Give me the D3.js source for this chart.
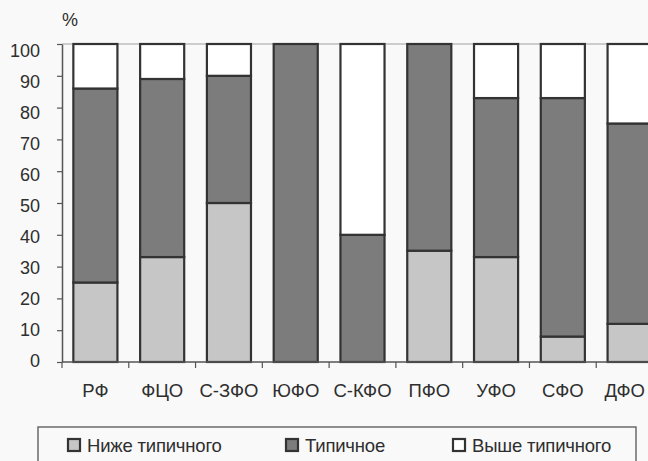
<!DOCTYPE html>
<html>
<head>
<meta charset="utf-8">
<script src="https://cdn.jsdelivr.net/npm/d3@7"></script>
<style>
  body { margin: 0; background: #fff; }
  svg { display: block; font-family: "Liberation Sans", Arial, sans-serif; }
</style>
</head>
<body>
<div id="chart"></div>
<script>
// regions (federal districts)
const categories = ["РФ", "ФЦО", "С-ЗФО", "ЮФО", "С-КФО", "ПФО", "УФО", "СФО", "ДФО"];
// shares, %
const belowTypical = [25, 33, 50, 0, 0, 35, 33, 8, 12];
const typical      = [61, 56, 40, 100, 40, 65, 50, 75, 63];
const aboveTypical = [14, 11, 10, 0, 60, 0, 17, 17, 25];
const seriesNames = ["Ниже типичного", "Типичное", "Выше типичного"];
const yTicks = [0, 10, 20, 30, 40, 50, 60, 70, 80, 90, 100];

const W = 648, H = 461,
    margin = {top: 44, left: 62, bottom: 99},
    plotW = 601,
    plotH = H - margin.top - margin.bottom;

const colors = ["#c6c6c6", "#7c7c7c", "#ffffff"];
const textColor = "#2e2e2e";
const keys = ["low", "typ", "high"];

let rows = categories.map(function(c, i){
    return {cat: c, low: belowTypical[i], typ: typical[i], high: aboveTypical[i]};
});
let stacked = d3.stack().keys(keys)(rows);

let x = d3.scaleBand().domain(categories)
    .range([margin.left, margin.left + plotW])
    .paddingInner(0.34).paddingOuter(0.17);
let y = d3.scaleLinear().domain([0, 100]).range([margin.top + plotH, margin.top]);
// the scanned labels sit a little lower than their ticks towards the top
let yLabel = d3.scaleLinear().domain([0, 100]).range([y(0) - 1, y(100) + 7]);

let svg = d3.select("#chart").append("svg").attr("width", W).attr("height", H);
svg.append("rect").attr("width", W).attr("height", H).attr("fill", "#f9f9f9");

// top border of plot area
svg.append("line")
    .attr("x1", margin.left).attr("x2", W)
    .attr("y1", y(100)).attr("y2", y(100))
    .attr("stroke", "#a0a0a0").attr("stroke-width", 1.2);

// bars
svg.append("g").selectAll("g")
    .data(stacked).join("g")
    .attr("fill", function(d, i){ return colors[i]; })
    .selectAll("rect")
    .data(function(d){ return d.filter(function(s){ return s[1] - s[0] > 0; }); })
    .join("rect")
    .attr("x", function(d){ return x(d.data.cat); })
    .attr("width", x.bandwidth())
    .attr("y", function(d){ return y(d[1]); })
    .attr("height", function(d){ return y(d[0]) - y(d[1]); })
    .attr("stroke", "#333").attr("stroke-width", 2.2);

// y axis
let yAxis = svg.append("g")
    .attr("transform", "translate(" + margin.left + ",0)")
    .call(d3.axisLeft(y).tickValues(yTicks).tickSize(5).tickFormat("").tickSizeOuter(0));
yAxis.select(".domain").attr("stroke", "#555").attr("stroke-width", 1.5);
yAxis.selectAll(".tick line").attr("stroke", "#555").attr("stroke-width", 1.2);

svg.append("g").selectAll("text")
    .data(yTicks).join("text")
    .attr("x", 40)
    .attr("y", function(d){ return yLabel(d); })
    .attr("dy", "0.36em")
    .attr("text-anchor", "end")
    .attr("font-size", 18).attr("fill", textColor)
    .text(function(d){ return d; });

svg.append("text").attr("x", margin.left).attr("y", 26)
    .attr("font-size", 18).attr("fill", textColor).text("%");

// x axis: line, ticks between categories, labels
let base = y(0);
svg.append("line")
    .attr("x1", margin.left).attr("x2", W)
    .attr("y1", base).attr("y2", base)
    .attr("stroke", "#555").attr("stroke-width", 1.5);

let step = x.step();
let boundaries = categories.map(function(c){ return x(c) - step * 0.17; });
boundaries.push(x(categories[categories.length - 1]) + x.bandwidth() + step * 0.17);
svg.append("g").selectAll("line")
    .data(boundaries).join("line")
    .attr("x1", function(d){ return d; }).attr("x2", function(d){ return d; })
    .attr("y1", base).attr("y2", base + 6)
    .attr("stroke", "#555").attr("stroke-width", 1.2);

svg.append("g").selectAll("text")
    .data(categories).join("text")
    .attr("x", function(d){ return x(d) + x.bandwidth() / 2; })
    .attr("y", base + 35)
    .attr("text-anchor", "middle")
    .attr("font-size", 18.5).attr("fill", textColor)
    .text(function(d){ return d; })
    .each(function(){
        // keep the last label inside the picture, like the original does
        let len = this.getComputedTextLength(),
            cx = +d3.select(this).attr("x");
        if(cx + len / 2 > W - 3){
            d3.select(this).attr("x", W - 3 - len / 2);
        }
    });

// legend
let legend = svg.append("g");
legend.append("rect")
    .attr("x", 38).attr("y", 427).attr("width", 598).attr("height", 45)
    .attr("fill", "none").attr("stroke", "#555").attr("stroke-width", 1.3);

let legendX = [68, 286, 453];
seriesNames.forEach(function(name, i){
    let g = legend.append("g").attr("transform", "translate(" + legendX[i] + ",439)");
    g.append("rect").attr("width", 12).attr("height", 12)
        .attr("fill", colors[i]).attr("stroke", "#333").attr("stroke-width", 2.2);
    g.append("text").attr("x", 19).attr("y", 13)
        .attr("font-size", 18.5).attr("fill", textColor)
        .attr("letter-spacing", -0.2)
        .text(name);
});
</script>
</body>
</html>
